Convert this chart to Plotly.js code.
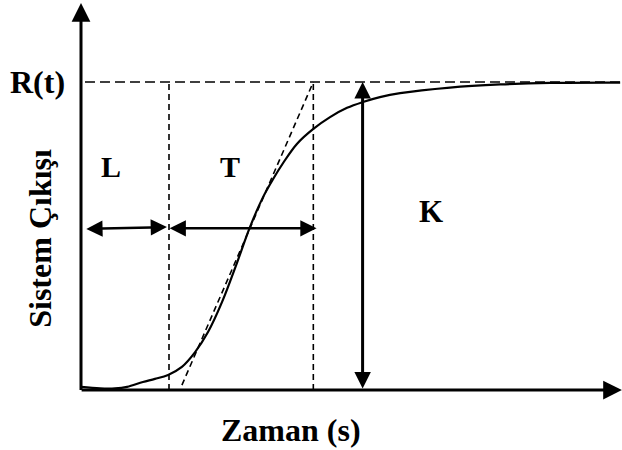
<!DOCTYPE html>
<html>
<head>
<meta charset="utf-8">
<script src="https://cdn.plot.ly/plotly-3.0.1.min.js"></script>
<style>html,body{margin:0;padding:0;background:#fff;}#chart{width:622px;height:450px;}</style>
</head>
<body>
<div id="chart"></div>
<script>
// Step response of the system (time in s, normalised output)
const timeS = [0.00, 0.65, 1.16, 1.57, 2.11, 2.52, 2.97, 3.44, 3.89, 4.33, 4.81, 5.28, 5.76, 6.21, 6.55, 6.89, 7.36, 7.91, 8.49, 9.07, 9.61, 10.19, 10.88, 12.58, 14.29, 15.99, 18.38];
const output = [0.010, 0.005, 0.005, 0.010, 0.026, 0.036, 0.049, 0.075, 0.123, 0.188, 0.286, 0.403, 0.529, 0.627, 0.685, 0.737, 0.799, 0.847, 0.886, 0.916, 0.935, 0.951, 0.964, 0.982, 0.992, 0.997, 0.998];

// Characteristic values
const R = 1.0;          // final value R(t)
const L = 3.0;          // dead time
const T = 4.92;         // time constant
const kArrowT = 9.6;    // where K is marked
const tangentT = [3.44, L + T];
const tangentY = [0.016, R];
const arrowLevelL = [0.523, 0.529];
const arrowLevelT = 0.525;
const tMax = 18.44;
const yAxisTop = 1.2565;

const labels = {R: 'R(t)', L: 'L', T: 'T', K: 'K', x: 'Zaman (s)', y: 'Sistem Çıkışı'};

const black = '#000';
const font = (s) => ({family: 'Liberation Serif, Times New Roman, serif', size: s, color: black, weight: 'bold'});

const traces = [
  {x: [0.136, tMax], y: [R, R], mode: 'lines', line: {color: black, width: 1.7, dash: '10px,5px'}},
  {x: [L, L], y: [0, R], mode: 'lines', line: {color: black, width: 1.6, dash: '6px,4px'}},
  {x: [L + T, L + T], y: [0, R], mode: 'lines', line: {color: black, width: 1.6, dash: '6px,4px'}},
  {x: tangentT, y: tangentY, mode: 'lines', line: {color: black, width: 1.6, dash: '6px,4px'}},
  {x: timeS, y: output, mode: 'lines', line: {color: black, width: 2.2, shape: 'spline', smoothing: 1}}
];

function arrow(x0, y0, x1, y1, w, size, both) {
  const a = {x: x1, y: y1, ax: x0, ay: y0, xref: 'x', yref: 'y', axref: 'x', ayref: 'y',
    text: '', showarrow: true, arrowhead: 2, arrowsize: size, arrowwidth: w, arrowcolor: black};
  if (both) { a.arrowside = 'end+start'; a.startarrowhead = 2; a.startarrowsize = size; }
  return a;
}

const annotations = [
  arrow(-0.03, 0, tMax, 0, 3, 1.25, false),
  arrow(0, -0.005, 0, yAxisTop, 3, 1.25, false),
  arrow(kArrowT, 0, kArrowT, R, 3, 1.1, true),
  arrow(0.13, arrowLevelL[0], L - 0.07, arrowLevelL[1], 2.5, 1.3, true),
  arrow(L - 0.03, arrowLevelT, L + T + 0.11, arrowLevelT, 2.5, 1.3, true),
  {x: -1.47, y: R, xref: 'x', yref: 'y', text: labels.R, showarrow: false, font: font(32), xanchor: 'center', yanchor: 'middle'},
  {x: 1.02, y: 0.727, xref: 'x', yref: 'y', text: labels.L, showarrow: false, font: font(30), xanchor: 'center', yanchor: 'middle'},
  {x: 5.08, y: 0.727, xref: 'x', yref: 'y', text: labels.T, showarrow: false, font: font(30), xanchor: 'center', yanchor: 'middle'},
  {x: 11.93, y: 0.578, xref: 'x', yref: 'y', text: labels.K, showarrow: false, font: font(31), xanchor: 'center', yanchor: 'middle'},
  {x: 7.16, y: -0.130, xref: 'x', yref: 'y', text: labels.x, showarrow: false, font: font(32), xanchor: 'center', yanchor: 'middle'},
  {x: -1.40, y: 0.494, xref: 'x', yref: 'y', text: labels.y, showarrow: false, font: font(32), textangle: -90, xanchor: 'center', yanchor: 'middle'}
];

const layout = {
  width: 622, height: 450,
  margin: {l: 0, r: 0, t: 0, b: 0, pad: 0},
  paper_bgcolor: '#fff', plot_bgcolor: '#fff',
  showlegend: false,
  xaxis: {range: [-2.7614, 18.4432], visible: false, fixedrange: true},
  yaxis: {range: [-0.1948, 1.2662], visible: false, fixedrange: true},
  annotations: annotations
};

Plotly.newPlot('chart', traces.map(t => Object.assign({hoverinfo: 'skip'}, t)), layout, {displayModeBar: false, staticPlot: true});
</script>
</body>
</html>
